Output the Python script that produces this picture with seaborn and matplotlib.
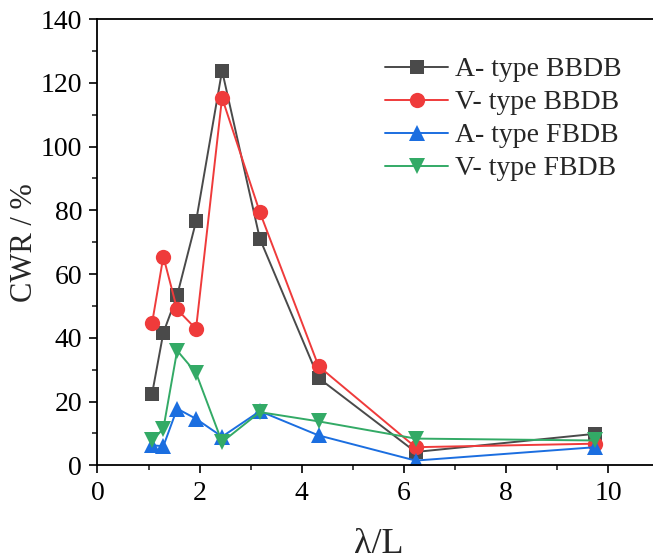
import matplotlib
matplotlib.use("Agg")
import matplotlib.pyplot as plt
import seaborn as sns
import pandas as pd
from matplotlib.ticker import MultipleLocator

# Data
x_vals = [1.07, 1.29, 1.56, 1.93, 2.44, 3.18, 4.33, 6.23, 9.75]
a_bbdb = [22.5, 41.6, 53.3, 76.5, 123.8, 71.1, 27.4, 4.2, 9.9]
v_bbdb = [44.7, 65.5, 48.9, 42.8, 115.3, 79.4, 31.1, 5.7, 6.8]
a_fbdb = [6.3, 6.0, 17.8, 14.6, 9.0, 17.0, 9.4, 1.5, 5.7]
v_fbdb = [7.8, 11.5, 36.0, 29.0, 7.3, 16.7, 13.8, 8.4, 7.8]
labels = ["A- type BBDB", "V- type BBDB", "A- type FBDB", "V- type FBDB"]

series = [a_bbdb, v_bbdb, a_fbdb, v_fbdb]
colors = ["#4a4a4a", "#ef3b3b", "#1b6ee0", "#33aa66"]
markers = ["s", "o", "^", "v"]
msizes = [10, 11, 11.5, 11.5]

df = pd.DataFrame({
    "x": x_vals * 4,
    "y": sum(series, []),
    "series": sum([[l] * len(x_vals) for l in labels], []),
})

sns.set_style("ticks")
plt.rcParams["font.family"] = ["Liberation Serif", "DejaVu Serif"]

fig = plt.figure(figsize=(6.53, 5.6), dpi=100)
ax = fig.add_axes([0.1493, 0.169, 0.86, 0.797])

for lab, c, m, ms in zip(labels, colors, markers, msizes):
    sub = df[df["series"] == lab]
    sns.lineplot(data=sub, x="x", y="y", ax=ax, color=c, marker=m,
                 markersize=ms, markeredgewidth=0, linewidth=1.4,
                 label=lab, sort=False)

ax.set_xlim(0, 11)
ax.set_ylim(0, 140)
ax.xaxis.set_major_locator(MultipleLocator(2))
ax.xaxis.set_minor_locator(MultipleLocator(1))
ax.yaxis.set_major_locator(MultipleLocator(20))
ax.yaxis.set_minor_locator(MultipleLocator(10))
ax.tick_params(which="major", direction="out", length=6, width=1.2,
               labelsize=20, colors="black", pad=5)
ax.tick_params(which="minor", direction="out", length=3.5, width=1.2)
ax.tick_params(top=False, right=False, which="both")
for s in ["left", "bottom", "top"]:
    ax.spines[s].set_linewidth(1.3)
    ax.spines[s].set_color("black")
ax.spines["right"].set_visible(False)

ax.set_xlabel("λ/L", fontsize=26, labelpad=16)
ax.set_ylabel("CWR / %", fontsize=22, labelpad=1)

leg = ax.legend(loc="upper left", bbox_to_anchor=(0.512, 0.915), frameon=False,
                fontsize=20, handlelength=2.27, handletextpad=0.25,
                labelspacing=0.27, borderaxespad=0, borderpad=0)

fig.savefig("out.png", dpi=100)
